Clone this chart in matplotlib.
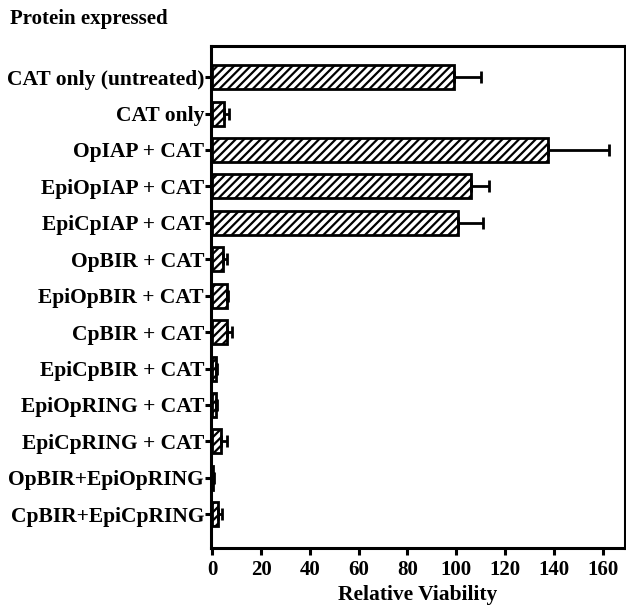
import matplotlib
matplotlib.use("Agg")
import matplotlib.pyplot as plt
import numpy as np

plt.rcParams['font.family'] = ['Liberation Serif', 'DejaVu Serif']
plt.rcParams['font.weight'] = 'bold'
plt.rcParams['hatch.linewidth'] = 1.6

categories = ["CAT only (untreated)", "CAT only", "OpIAP + CAT", "EpiOpIAP + CAT",
              "EpiCpIAP + CAT", "OpBIR + CAT", "EpiOpBIR + CAT", "CpBIR + CAT",
              "EpiCpBIR + CAT", "EpiOpRING + CAT", "EpiCpRING + CAT",
              "OpBIR+EpiOpRING", "CpBIR+EpiCpRING"]
values = [99, 5, 137.5, 106, 100.5, 4.5, 6, 6, 1.5, 1.5, 3.5, 0.5, 2.5]
errors = [11, 2, 25, 7.5, 10.5, 1.5, 0.5, 2, 0.5, 0.5, 2.5, 0.3, 1.5]
xticks = [0, 20, 40, 60, 80, 100, 120, 140, 160]

fig = plt.figure(figsize=(6.26, 6.07), dpi=100)
ax = fig.add_axes([0.337, 0.097, 0.661, 0.827])

y = np.arange(len(categories))
ax.barh(y, values, height=0.66, color='white', edgecolor='black', linewidth=2,
        hatch='////', zorder=2)
ax.errorbar(values, y, xerr=[np.zeros(len(errors)), errors], fmt='none',
            ecolor='black', elinewidth=2, capsize=4, capthick=2, zorder=3)

ax.set_yticks(y)
ax.set_yticklabels(categories, fontsize=15.5, fontweight='bold')
ax.set_ylim(len(categories) - 1 + 0.93, -0.85)
ax.set_xlim(-0.5, 169)
ax.set_xticks(xticks)
ax.set_xticklabels([str(t) for t in xticks], fontsize=15, fontweight='bold')
ax.set_xlabel("Relative Viability", fontsize=15.5, fontweight='bold', labelpad=4)

for s in ax.spines.values():
    s.set_linewidth(2.2)
ax.tick_params(axis='x', width=2.2, length=5, direction='out', pad=3.5)
ax.tick_params(axis='y', width=2.2, length=4, direction='out', pad=1)

fig.text(0.016, 0.968, "Protein expressed", fontsize=15, fontweight='bold',
         ha='left', va='center')

fig.savefig("out.png", dpi=100)
